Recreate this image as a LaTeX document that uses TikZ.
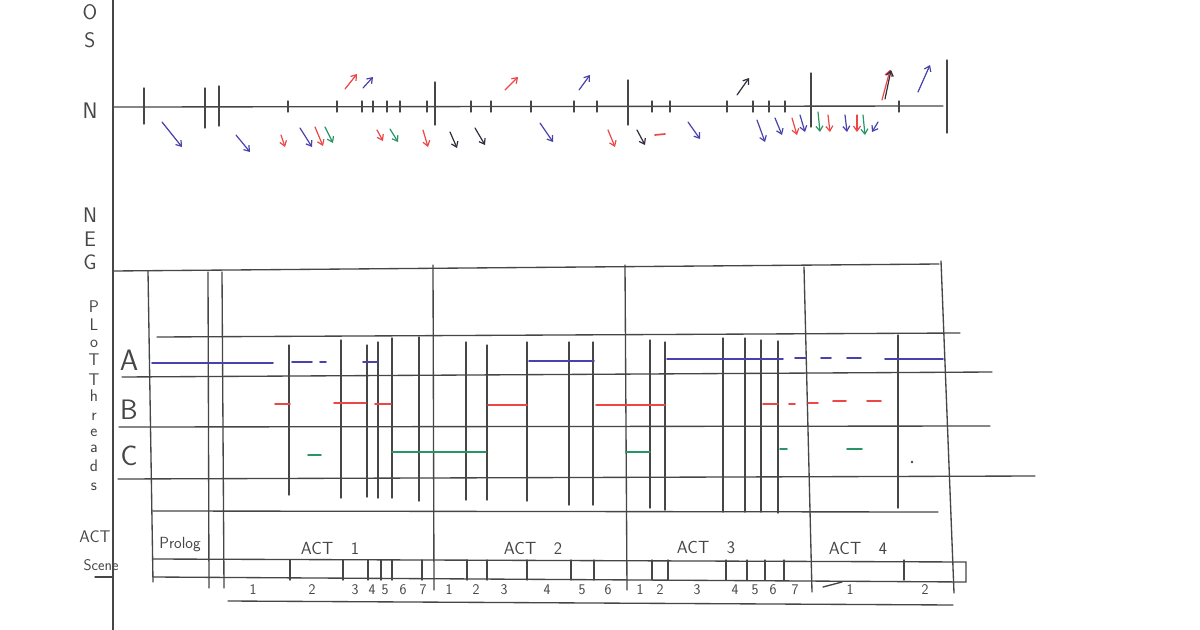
\documentclass[tikz,border=0pt]{standalone}
\usetikzlibrary{arrows.meta}
\definecolor{penblue}{RGB}{72,66,172}
\definecolor{penred}{RGB}{236,70,70}
\definecolor{pengreen}{RGB}{40,150,100}
\definecolor{pengrey}{RGB}{70,70,70}
\definecolor{pendark}{RGB}{50,45,60}
\tikzset{
  pencil/.style={line width=1.9pt, pengrey, line cap=round},
  thread/.style={line width=2.4pt, line cap=round},
  arr/.style={line width=1.7pt, line cap=round, -{Straight Barb[length=7pt,width=10pt]}},
  hand/.style={text=pengrey, inner sep=0pt, font=\sffamily\fontsize{#1}{#1}\selectfont},
  hand/.default=20
}
\begin{document}
\begin{tikzpicture}[x=0.05cm,y=-0.05cm]
  \useasboundingbox[fill=white] (0,0) rectangle (1200,630);
  \draw[pencil] (113,0) -- (113,630);
  \node[hand=30] (lO) at (90,12) {O};
  \node[hand=30] (lS) at (90,40) {S};
  \node[hand=32] (lN) at (90,111) {N};
  \foreach \t/\y [count=\i] in {N/215,E/239,G/262}
    \node[hand=30] (neg\i) at (90,\y) {\t};
  \foreach \t/\y [count=\i] in {P/307,L/325,o/344,T/360,T/380,h/396,r/417,e/433,a/449,d/466,s/487}
    \node[hand=24] (pt\i) at (94,\y) {\t};
  \node[hand=42] (tA) at (129,360) {A};
  \node[hand=40] (tB) at (129,410) {B};
  \node[hand=40] (tC) at (129,456) {C};
  \node[hand=24] (lAct) at (95,537) {ACT};
  \node[hand=22] (lScene) at (101,565) {Scene};
  \draw[pencil] (95,577) -- (113,577);
  % N axis
  \draw[pencil] (113,107) -- (943,106);
  \foreach \x in {288,337,362,373,387,400,427,471,491,531,574,597,652,670,727,753,769,785,899}
    \draw[pencil] (\x,101) -- (\x,112);
  \foreach \x/\a/\b in {144/88/124,205/88/128,219/86/126,435/82/125,628/80/125,811/73/127,947/60/133}
    \draw[pencil] (\x,\a) -- (\x,\b);
  \foreach \a/\b/\c/\d/\col in {345/89/357/74/penred,363/88/373/77/penblue,505/90/518/77/penred,
      579/90/590/75/penblue,737/95/749/78/pendark,882/100/890/70/penred,885/99/891/70/pendark,
      918/92/930/65/penblue,
      162/122/182/147/penblue,236/135/250/152/penblue,281/135/285/147/penred,300/128/312/147/penblue,
      315/127/323/146/penred,325/127/333/143/pengreen,377/130/383/141/penred,390/129/398/142/pengreen,
      423/130/428/147/penred,450/132/457/148/pendark,475/128/485/145/pendark,540/123/553/142/penblue,
      608/130/615/147/penred,637/130/645/145/pendark,688/122/700/139/penblue,757/120/765/142/penblue,
      775/118/782/135/penblue,792/118/797/135/penred,800/115/805/132/penblue,818/112/820/132/pengreen,
      828/115/830/132/penred,845/115/847/132/penblue,857/115/857/132/penred,863/115/865/135/pengreen,
      878/122/872/132/penblue}
    \draw[arr,\col] (\a,\b) -- (\c,\d);
  \draw[thread,penred] (655,135) -- (665,134);
  % plot threads
  \draw[pencil] (113,271) -- (939,264);
  \draw[pencil] (157,337) -- (960,333);
  \draw[pencil] (122,377) -- (992,372);
  \draw[pencil] (119,427) -- (990,426);
  \draw[pencil] (118,479) -- (1035,476);
  \draw[pencil] (153,511) -- (938,512);
  \foreach \x/\a/\b in {289/345/495,341/340/498,367/345/497,378/342/498,392/338/498,419/337/501,
      466/342/500,487/345/500,527/342/501,569/342/505,593/342/505,650/340/508,665/342/510,
      723/338/512,745/338/512,761/340/512,778/341/513,898/335/508}
    \draw[pencil] (\x,\a) -- (\x,\b);
  \foreach \x/\a/\c/\b in {148/271/153/582,208/272/209/588,222/272/224/588,433/265/434/590,
      625/265/627/590,804/267/812/592,941/261/954/593}
    \draw[pencil] (\x,\a) -- (\c,\b);
  \foreach \a/\b/\y/\col in {152/273/363/penblue,292/312/362/penblue,320/326/362/penblue,
      363/378/362/penblue,529/594/361/penblue,667/783/359/penblue,795/806/358/penblue,
      821/831/358/penblue,847/861/358/penblue,885/943/359/penblue,
      275/290/404/penred,334/366/403/penred,375/391/404/penred,488/527/405/penred,
      596/665/405/penred,763/778/404/penred,789/795/404/penred,808/818/403/penred,
      833/846/401/penred,867/881/401/penred,
      308/321/455/pengreen,392/486/452/pengreen,626/650/452/pengreen,780/787/449/pengreen,
      847/862/449/pengreen}
    \draw[thread,\col] (\a,\y) -- (\b,\y);
  \fill[pengrey] (912,462) circle (1.3);
  % acts and scenes
  \node[hand=23] (prolog) at (180,545) {Prolog};
  \foreach \t/\x [count=\i] in {1/330,2/533,3/706,4/858}
    \node[hand=25] (act\i) at (\x,548) {ACT\quad\t};
  \draw[pencil] (153,559) -- (966,562) -- (966,582) -- (153,577);
  \foreach \x in {290,343,368,381,392,422,467,487,527,571,594,652,668,726,747,765,784,904}
    \draw[pencil] (\x,560) -- (\x,580);
  \foreach \t/\x [count=\i] in {1/253,2/312,3/355,4/372,5/385,6/403,7/423,1/449,2/476,3/504,4/547,
      5/582,6/608,1/640,2/660,3/697,4/735,5/755,6/773,7/795,1/850,2/925}
    \node[hand=21] (sc\i) at (\x,590) {\t};
  \draw[pencil] (823,587) -- (842,582);
  \draw[pencil] (228,601) -- (953,605);
\end{tikzpicture}
\end{document}
